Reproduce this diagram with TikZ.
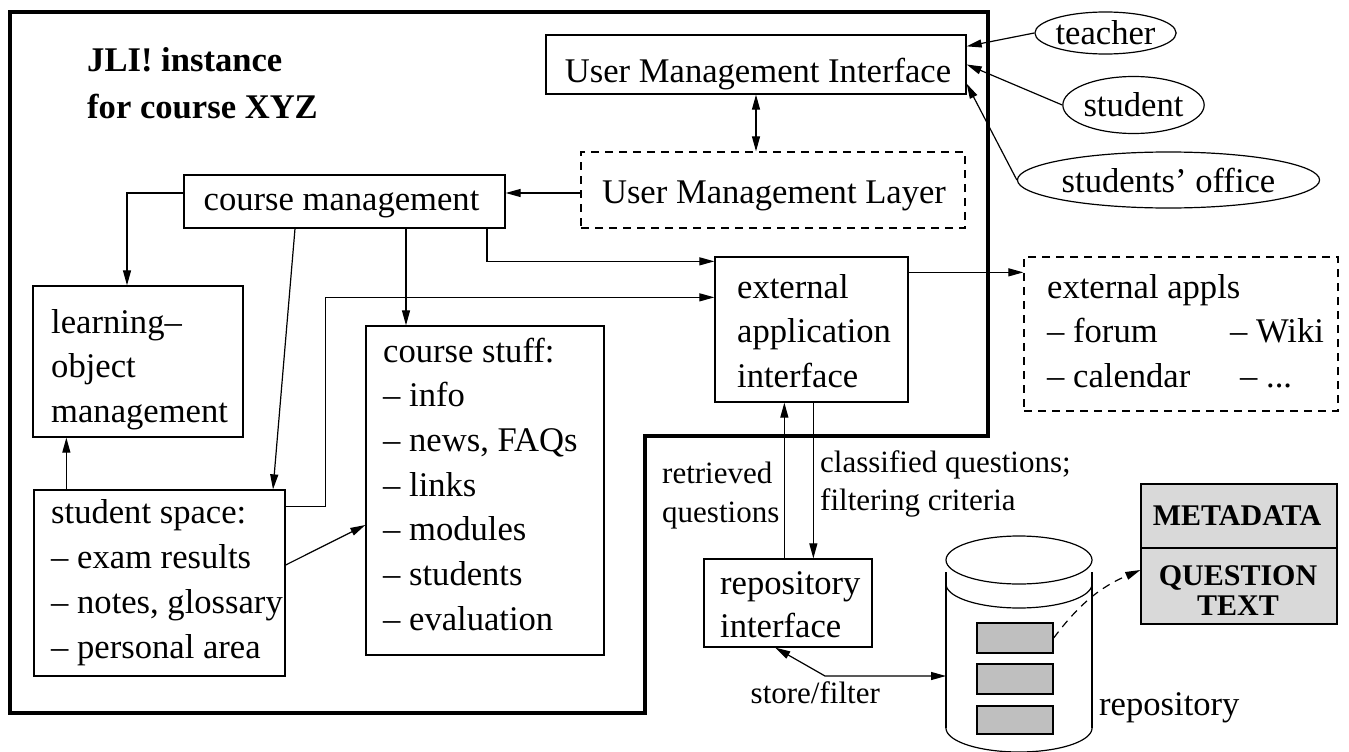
\documentclass[tikz,border=0pt]{standalone}
\usepackage{fontspec}
\setmainfont{Liberation Serif}
\usetikzlibrary{arrows.meta,calc,fit,shapes.geometric}
\begin{document}
\begin{tikzpicture}[x=1pt,y=-1pt,
  every node/.style={inner sep=0pt},
  box/.style={draw, line width=1.3pt, inner sep=0pt},
  dbox/.style={box, dash pattern=on 8pt off 6pt},
  gbox/.style={box, fill=black!25},
  txt/.style={anchor=base west, font=\fontsize{34.6}{44.7}\selectfont},
  ctxt/.style={anchor=base, font=\fontsize{34.6}{44.7}\selectfont},
  btxt/.style={anchor=base west, font=\bfseries\fontsize{34.6}{44.7}\selectfont},
  mtxt/.style={anchor=base, font=\bfseries\fontsize{30}{30}\selectfont},
  lab/.style={anchor=base west, font=\fontsize{31}{38}\selectfont},
  ell/.style={draw, ellipse, line width=1.2pt, inner sep=0pt, font=\fontsize{34.6}{44.7}\selectfont},
  arr/.style={line width=1.2pt, -{Triangle[length=15pt,width=8pt]}},
  darr/.style={line width=1.2pt, {Triangle[length=15pt,width=8pt]}-{Triangle[length=15pt,width=8pt]}},
  ]
\useasboundingbox (0,0) rectangle (1349,752);

% thick frame
\draw[line width=4.5pt, line join=miter] (10,12) -- (988,12) -- (988,436) -- (645,436) -- (645,713) -- (10,713) -- cycle;

% title
\node[btxt] (title1) at (87,71) {JLI! instance};
\node[btxt] (title2) at (87,118) {for course XYZ};

% boxes
\node[box, fit={(546,35) (966,94)}] (UMI) {};
\node[ctxt] (UMIt) at (758,82) {User Management Interface};
\node[dbox, fit={(581,152) (965,228)}] (UML) {};
\node[ctxt] (UMLt) at (774,203) {User Management Layer};
\node[box, fit={(184,175) (505,228)}] (CM) {};
\node[ctxt] (CMt) at (341.5,210) {course management};

\node[box, fit={(33,286) (243,437)}] (LOM) {};
\node[txt] (LOM1) at (51,333) {learning–};
\node[txt] (LOM2) at (51,377.5) {object};
\node[txt] (LOM3) at (51,422) {management};

\node[box, fit={(34,490) (285,676)}] (SS) {};
\node[txt] (SS1) at (51,523) {student space:};
\node[txt] (SS2) at (51,568) {– exam results};
\node[txt] (SS3) at (51,613) {– notes, glossary};
\node[txt] (SS4) at (51,658) {– personal area};

\node[box, fit={(366,326) (604,655)}] (CS) {};
\node[txt] (CS1) at (383,362) {course stuff:};
\node[txt] (CS2) at (383,406.7) {– info};
\node[txt] (CS3) at (383,451.4) {– news, FAQs};
\node[txt] (CS4) at (383,496) {– links};
\node[txt] (CS5) at (383,540.8) {– modules};
\node[txt] (CS6) at (383,585.5) {– students};
\node[txt] (CS7) at (383,630) {– evaluation};

\node[box, fit={(715,257) (908,402)}] (EAI) {};
\node[txt] (EAI1) at (737,298) {external};
\node[txt] (EAI2) at (737,342.5) {application};
\node[txt] (EAI3) at (737,387) {interface};

\node[dbox, fit={(1024,257) (1338,411)}] (EXT) {};
\node[txt] (EXT1) at (1047,298) {external appls};
\node[txt] (EXT2) at (1047,342.5) {– forum};
\node[txt] (EXT3) at (1230,342.5) {– Wiki};
\node[txt] (EXT4) at (1047,387) {– calendar};
\node[txt] (EXT5) at (1240,387) {– ...};

\node[box, fit={(704,559) (872,647)}] (RI) {};
\node[txt] (RI1) at (720,594) {repository};
\node[txt] (RI2) at (720,637) {interface};

% ellipses
\node[ell, minimum width=130pt, minimum height=42pt] (teacher) at (1105.5,33) {teacher};
\node[ell, minimum width=129pt, minimum height=57pt] (student) at (1133.5,105) {student};
\node[ell, minimum width=257pt, minimum height=56pt] (office) at (1168.5,180) {students’ office};

% metadata box
\node[gbox, fill=black!15, fit={(1141,484) (1337,624)}] (META) {};
\draw[line width=1.3pt] (META.west |- 0,548) -- (META.east |- 0,548);
\node[mtxt] (M1) at (1237,525) {METADATA};
\node[mtxt] (M2) at (1238,585) {QUESTION};
\node[mtxt] (M3) at (1238,615) {TEXT};

% repository cylinder
\draw[line width=1.2pt] (1019,560) ellipse [x radius=73, y radius=24];
\draw[line width=1.2pt] (946,572) -- (946,728);
\draw[line width=1.2pt] (1092,572) -- (1092,728);
\draw[line width=1.2pt] plot[domain=180:0, samples=60, smooth] ({1019+73*cos(\x)},{584+24*sin(\x)});
\draw[line width=1.2pt] plot[domain=180:0, samples=60, smooth] ({1019+73*cos(\x)},{728+24*sin(\x)});
\node[gbox, fit={(977,623) (1053,653)}] (r1) {};
\node[gbox, fit={(977,664) (1053,694)}] (r2) {};
\node[gbox, fit={(977,706) (1053,734)}] (r3) {};
\coordinate (repoL) at (946,676);
\node[txt] (repolab) at (1099,715) {repository};

% labels
\node[lab] (ret1) at (662,483) {retrieved};
\node[lab] (ret2) at (662,522) {questions};
\node[lab] (cl1) at (820,472) {classified questions;};
\node[lab] (cl2) at (820,510) {filtering criteria};
\node[lab] (sf) at (750.5,703) {store/filter};

% connectors
\draw[darr] (UMI.south) -- (UMI.south |- UML.north);
\draw[arr] (teacher.west) -- ($(UMI.north east)+(0,12)$);
\draw[arr] (student.west) -- (UMI.east);
\draw[arr] (office.west) -- ($(UMI.south east)+(0,-11)$);
\draw[arr] ($(UML.west)+(0,3)$) -- ($(CM.east)+(0,-8.5)$);
\draw[arr] ($(CM.west)+(0,-8.5)$) -| ($(LOM.north)+(-11,0)$);
\draw[arr] ($(CM.south)+(-49.5,0)$) -- ($(SS.north)+(113.5,0)$);
\draw[arr] ($(CM.south)+(61.5,0)$) -- ($(CS.north)+(-79,0)$);
\draw[arr] ($(CM.south)+(142.5,0)$) |- ($(EAI.north west)+(0,5)$);
\draw[arr] ($(SS.north east)+(0,17)$) -- ++(40,0) |- ($(EAI.north west)+(0,41)$);
\draw[arr] ($(SS.east)+(0,-18)$) -- ($(CS.west)+(0,34.5)$);
\draw[arr] ($(SS.north west)+(33,0)$) -- ($(LOM.south west)+(34,0)$);
\draw[arr] ($(EAI.north east)+(0,16)$) -- ($(EXT.north west)+(0,16)$);
\draw[arr] ($(RI.north west)+(81,0)$) -- ($(EAI.south west)+(70,0)$);
\draw[arr] ($(EAI.south west)+(99,0)$) -- ($(RI.north west)+(110,0)$);
\coordinate (sfbend) at (825,676);
\draw[darr] ($(RI.south west)+(72,0)$) -- (sfbend) -- (repoL);
\draw[arr, dash pattern=on 8pt off 6pt] (r1.east) to[bend left=15] ($(META.west)+(0,16)$);
\end{tikzpicture}
\end{document}
